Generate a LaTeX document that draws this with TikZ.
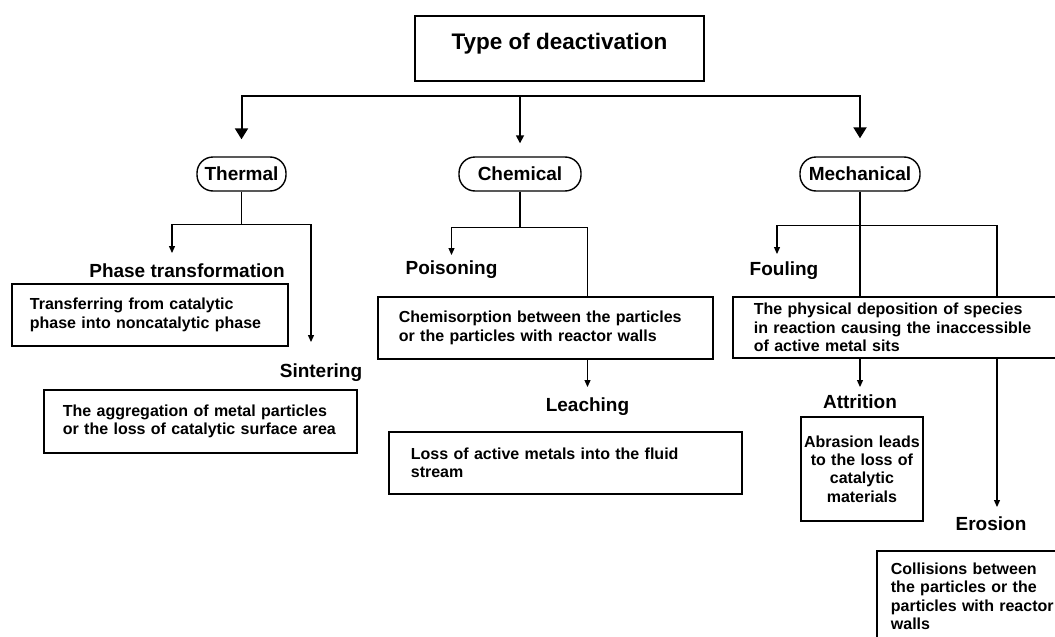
\documentclass[tikz,border=0pt]{standalone}
\usepackage{fontspec}
\setmainfont{Liberation Sans}
\usetikzlibrary{positioning, arrows.meta, calc}

\begin{document}
\begin{tikzpicture}[x=1pt, y=-1pt,
    bigtip/.style={-{Triangle[width=13pt,length=11pt]}, line width=2pt},
    midtip/.style={-{Triangle[width=8pt,length=8pt]}, line width=1.6pt},
    tip/.style={-{Triangle[width=6pt,length=7pt]}, line width=1.2pt},
    link/.style={line width=1.2pt},
    pill/.style={draw, line width=1.4pt, rounded corners=16pt, minimum height=34pt, inner xsep=6pt, font=\fontsize{19}{22}\selectfont\bfseries},
    head/.style={inner sep=2pt, anchor=base, font=\fontsize{19}{22}\selectfont\bfseries},
    textbox/.style={draw, line width=1.8pt, anchor=north west, align=left, inner ysep=0pt, font=\fontsize{16}{18.3}\selectfont\bfseries}]
    \useasboundingbox (0,0) rectangle (1055,637);
    \clip (0,0) rectangle (1055,637);

    \node[draw, line width=2pt, minimum width=289pt, inner ysep=10pt, text height=23pt, text depth=22pt, anchor=base, font=\fontsize{22.5}{26}\selectfont\bfseries] (title) at (559.5,49) {Type of deactivation};

    \node[pill, minimum width=89pt] (thermal) at (241.5,174) {Thermal};
    \node[pill, minimum width=122pt] (chemical) at (520,174) {Chemical};
    \node[pill, minimum width=120pt] (mechanical) at (860,174) {Mechanical};

    \node[head] (phase) at (187,277) {Phase transformation};
    \node[head] (sintering) at (321,377) {Sintering};
    \node[head] (poisoning) at (451.5,274) {Poisoning};
    \node[head] (leaching) at (587.5,411) {Leaching};
    \node[head] (fouling) at (784,275) {Fouling};
    \node[head] (attrition) at (860,408) {Attrition};
    \node[head] (erosion) at (991,530) {Erosion};

    \node[textbox, inner xsep=18pt, text width=240pt, minimum height=62pt] (phasebox) at (11,283) {Transferring from catalytic\\phase into noncatalytic phase};
    \node[textbox, inner xsep=19pt, text width=275pt, minimum height=63pt] (sinterbox) at (43,389) {The aggregation of metal particles\\or the loss of catalytic surface area};
    \node[textbox, inner xsep=21pt, text width=293pt, minimum height=62pt] (poisonbox) at (377,296) {Chemisorption between the particles\\or the particles with reactor walls};
    \node[textbox, inner xsep=22pt, text width=309pt, minimum height=62pt] (leachbox) at (388,431) {Loss of active metals into the fluid\\stream};
    \node[textbox, inner xsep=21pt, text width=296pt, minimum height=61pt] (foulbox) at (732,296) {The physical deposition of species\\in reaction causing the inaccessible\\of active metal sits};
    \node[textbox, align=center, inner xsep=2pt, text width=118pt, minimum height=104pt] (attribox) at (800,416) {Abrasion leads\\to the loss of\\catalytic\\materials};
    \node[textbox, inner xsep=14pt, inner ysep=12pt, text width=175pt] (erosbox) at (876,550) {Collisions between\\the particles or the\\particles with reactor\\walls};

    \coordinate (bus) at (559.5,96);
    \draw[bigtip, shorten >=17pt] (bus) -| (thermal.north);
    \draw[bigtip, shorten >=18pt] (bus) -| (mechanical.north);
    \draw[midtip, shorten >=13pt] (bus) -| (chemical.north);

    \draw[link] (thermal.south) -- ++(0,33) coordinate (tsplit);
    \draw[tip, shorten >=8pt] (tsplit) -| ([xshift=-15pt]phase.north);
    \draw[tip, shorten >=19pt] (tsplit) -| ([xshift=-10pt]sintering.north);

    \draw[link] (chemical.south) -- ++(0,36) coordinate (csplit);
    \draw[tip, shorten >=3pt] (csplit) -| (poisoning.north);
    \draw[link] (csplit) -| (leaching |- poisonbox.north);
    \draw[tip, shorten >=8pt] (leaching |- poisonbox.south) -- (leaching.north);

    \coordinate (eline) at ([xshift=6pt]erosion.north);
    \draw[link] (mechanical.south) -- ++(0,34) coordinate (msplit) -- (mechanical.south |- foulbox.north);
    \draw[tip, shorten >=5pt] (msplit) -| ([xshift=-7pt]fouling.north);
    \draw[link] (msplit) -| (eline |- foulbox.north);
    \draw[tip, shorten >=5pt] (attrition |- foulbox.south) -- (attrition.north);
    \draw[tip, shorten >=7pt] (eline |- foulbox.south) -- (eline);
\end{tikzpicture}
\end{document}
